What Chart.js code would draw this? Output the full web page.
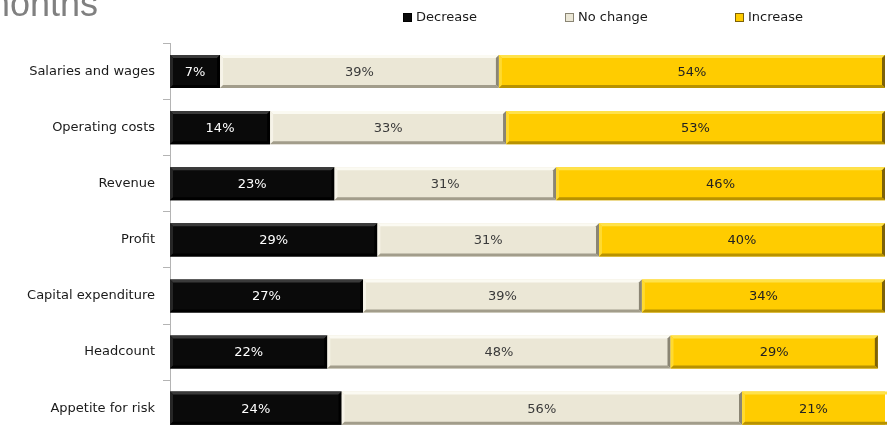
<!DOCTYPE html>
<html>
<head>
<meta charset="utf-8">
<script src="https://cdn.jsdelivr.net/npm/chart.js@4.4.1/dist/chart.umd.min.js"></script>
<style>
  html, body { margin: 0; padding: 0; background: #fff; overflow: hidden; }
  #chart { display: block; }
</style>
</head>
<body>
<canvas id="chart" width="890" height="452"></canvas>
<script>
  // data (percent of respondents)
  const categories = ["Salaries and wages", "Operating costs", "Revenue", "Profit",
    "Capital expenditure", "Headcount", "Appetite for risk"];
  const decrease = [7, 14, 23, 29, 27, 22, 24];
  const noChange = [39, 33, 31, 31, 39, 48, 56];
  const increase = [54, 53, 46, 40, 34, 29, 21];
  const seriesNames = ["Decrease", "No change", "Increase"];

  const FONT = "'DejaVu Sans', sans-serif";

  // bevel look, one entry per series: face, top, left, right, bottom, label colour
  const looks = [
    { face: "#0a0a0a", top: "#3a3a3a", left: "#262626", right: "#000000", bottom: "#000000", text: "#ffffff" },
    { face: "#ebe7d6", top: "#fbfaf2", left: "#f6f3e8", right: "#8a8574", bottom: "#a29d8b", text: "#3a3a3a" },
    { face: "#ffcc00", top: "#ffe24a", left: "#ffda30", right: "#7e6208", bottom: "#b89200", text: "#222222" }
  ];

  const bevelPlugin = {
    id: "bevel",
    afterDatasetsDraw(chart) {
      const ctx = chart.ctx;
      const area = chart.chartArea;
      ctx.save();
      ctx.beginPath();
      ctx.rect(area.left, area.top, area.right - area.left + 2, area.bottom - area.top);
      ctx.clip();
      chart.data.datasets.forEach((ds, i) => {
        const look = looks[i];
        chart.getDatasetMeta(i).data.forEach((bar) => {
          const l = Math.min(bar.base, bar.x), r = Math.max(bar.base, bar.x);
          const t = bar.y - bar.height / 2, b = bar.y + bar.height / 2;
          const s = 3;
          const poly = (pts, col) => {
            ctx.fillStyle = col;
            ctx.beginPath();
            ctx.moveTo(pts[0][0], pts[0][1]);
            pts.slice(1).forEach(p => ctx.lineTo(p[0], p[1]));
            ctx.closePath();
            ctx.fill();
          };
          poly([[l, t], [r, t], [r - s, t + s], [l + s, t + s]], look.top);
          poly([[l, t], [l + s, t + s], [l + s, b - s], [l, b]], look.left);
          poly([[r, t], [r, b], [r - s, b - s], [r - s, t + s]], look.right);
          poly([[l, b], [l + s, b - s], [r - s, b - s], [r, b]], look.bottom);
        });
      });
      ctx.restore();

      // value labels in the middle of each segment
      ctx.save();
      ctx.font = "13px " + FONT;
      ctx.textAlign = "center";
      ctx.textBaseline = "middle";
      chart.data.datasets.forEach((ds, i) => {
        ctx.fillStyle = looks[i].text;
        chart.getDatasetMeta(i).data.forEach((bar, j) => {
          const r = Math.min(Math.max(bar.base, bar.x), area.right);
          const cx = (Math.min(bar.base, bar.x) + r) / 2;
          ctx.fillText(ds.data[j] + "%", cx, bar.y + 1);
        });
      });
      ctx.restore();
    }
  };

  // cut-off title and the legend across the top
  const headerPlugin = {
    id: "header",
    afterDraw(chart) {
      const ctx = chart.ctx;
      ctx.save();
      ctx.font = "36px 'Liberation Sans', Arial, sans-serif";
      ctx.fillStyle = "#808080";
      ctx.textAlign = "right";
      ctx.textBaseline = "alphabetic";
      ctx.fillText("Business expectations over the next 12 months", 98, 16);

      const xs = [403, 565, 735];
      ctx.font = "13px " + FONT;
      ctx.textAlign = "left";
      ctx.textBaseline = "middle";
      chart.data.datasets.forEach((ds, i) => {
        const look = looks[i];
        ctx.fillStyle = look.face;
        ctx.fillRect(xs[i], 13, 9, 9);
        ctx.strokeStyle = look.right;
        ctx.lineWidth = 1;
        ctx.strokeRect(xs[i] + 0.5, 13.5, 8, 8);
        ctx.fillStyle = "#1a1a1a";
        ctx.fillText(ds.label, xs[i] + 13, 18);
      });
      ctx.restore();
    }
  };

  const ctx = document.getElementById("chart").getContext("2d");
  new Chart(ctx, {
    type: "bar",
    data: {
      labels: categories,
      datasets: [
        { label: seriesNames[0], data: decrease, backgroundColor: looks[0].face },
        { label: seriesNames[1], data: noChange, backgroundColor: looks[1].face },
        { label: seriesNames[2], data: increase, backgroundColor: looks[2].face }
      ]
    },
    options: {
      indexAxis: "y",
      responsive: false,
      animation: false,
      layout: { padding: { top: 43.5, right: 5, bottom: 4.5, left: 0 } },
      datasets: {
        bar: { barPercentage: 0.59, categoryPercentage: 1, borderWidth: 0 }
      },
      scales: {
        x: { stacked: true, min: 0, max: 100, display: false },
        y: {
          stacked: true,
          afterFit: (scale) => { scale.width = 170; },
          border: { display: true, color: "#b4b4b4" },
          grid: { drawOnChartArea: false, drawTicks: true, tickLength: 7, color: "#b4b4b4", offset: true },
          ticks: {
            color: "#1a1a1a",
            padding: 8,
            font: { family: FONT, size: 13 }
          }
        }
      },
      plugins: {
        legend: { display: false },
        tooltip: { enabled: false }
      }
    },
    plugins: [bevelPlugin, headerPlugin]
  });
</script>
</body>
</html>
